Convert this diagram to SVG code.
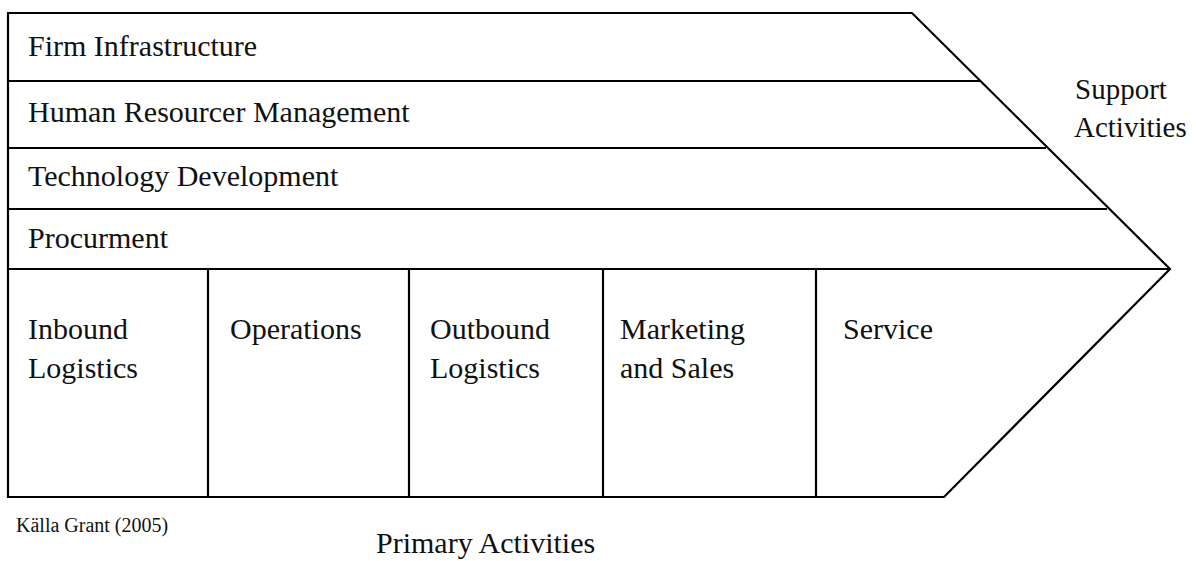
<svg xmlns="http://www.w3.org/2000/svg" width="1196" height="561" viewBox="0 0 1196 561">
  <style>
    .ln { fill: none; stroke: #000; stroke-width: 2.2; stroke-linejoin: miter; }
    .t { font-family: "Liberation Serif", "Times New Roman", serif; font-size: 30px; fill: #111; }
    .side { font-size: 29px; }
    .s { font-family: "Liberation Serif", "Times New Roman", serif; font-size: 20px; fill: #111; }
  </style>
  <rect width="1196" height="561" fill="#fff"/>

  <!-- outer chevron outline -->
  <g id="frame">
    <path class="ln" d="M8,13 L912,13 L1170,269 L944,497 L8,497 Z"/>
  </g>

  <!-- row and column dividers -->
  <g id="connectors">
    <line class="ln" x1="8" y1="81" x2="980" y2="81"/>
    <line class="ln" x1="8" y1="148" x2="1046" y2="148"/>
    <line class="ln" x1="8" y1="209" x2="1107" y2="209"/>
    <line class="ln" x1="8" y1="269" x2="1170" y2="269"/>
    <line class="ln" x1="208" y1="269" x2="208" y2="497"/>
    <line class="ln" x1="409" y1="269" x2="409" y2="497"/>
    <line class="ln" x1="603" y1="269" x2="603" y2="497"/>
    <line class="ln" x1="816" y1="269" x2="816" y2="497"/>
  </g>

  <!-- support activities -->
  <g id="firm-infrastructure"><text class="t" x="28" y="56">Firm Infrastructure</text></g>
  <g id="human-resources"><text class="t" x="28" y="122">Human Resourcer Management</text></g>
  <g id="technology-development"><text class="t" x="28" y="186">Technology Development</text></g>
  <g id="procurement"><text class="t" x="28" y="248">Procurment</text></g>

  <!-- primary activities -->
  <g id="inbound-logistics">
    <text class="t" x="28" y="339">Inbound</text>
    <text class="t" x="28" y="378">Logistics</text>
  </g>
  <g id="operations"><text class="t" x="230" y="339">Operations</text></g>
  <g id="outbound-logistics">
    <text class="t" x="430" y="339">Outbound</text>
    <text class="t" x="430" y="378">Logistics</text>
  </g>
  <g id="marketing-sales">
    <text class="t" x="620" y="339">Marketing</text>
    <text class="t" x="620" y="378">and Sales</text>
  </g>
  <g id="service"><text class="t" x="843" y="339">Service</text></g>

  <!-- side and bottom labels -->
  <g id="support-label">
    <text class="t side" x="1075" y="99">Support</text>
    <text class="t side" x="1074" y="137">Activities</text>
  </g>
  <g id="primary-label"><text class="t" x="376" y="553">Primary Activities</text></g>
  <g id="source"><text class="s" x="16" y="532">Källa Grant (2005)</text></g>
</svg>
